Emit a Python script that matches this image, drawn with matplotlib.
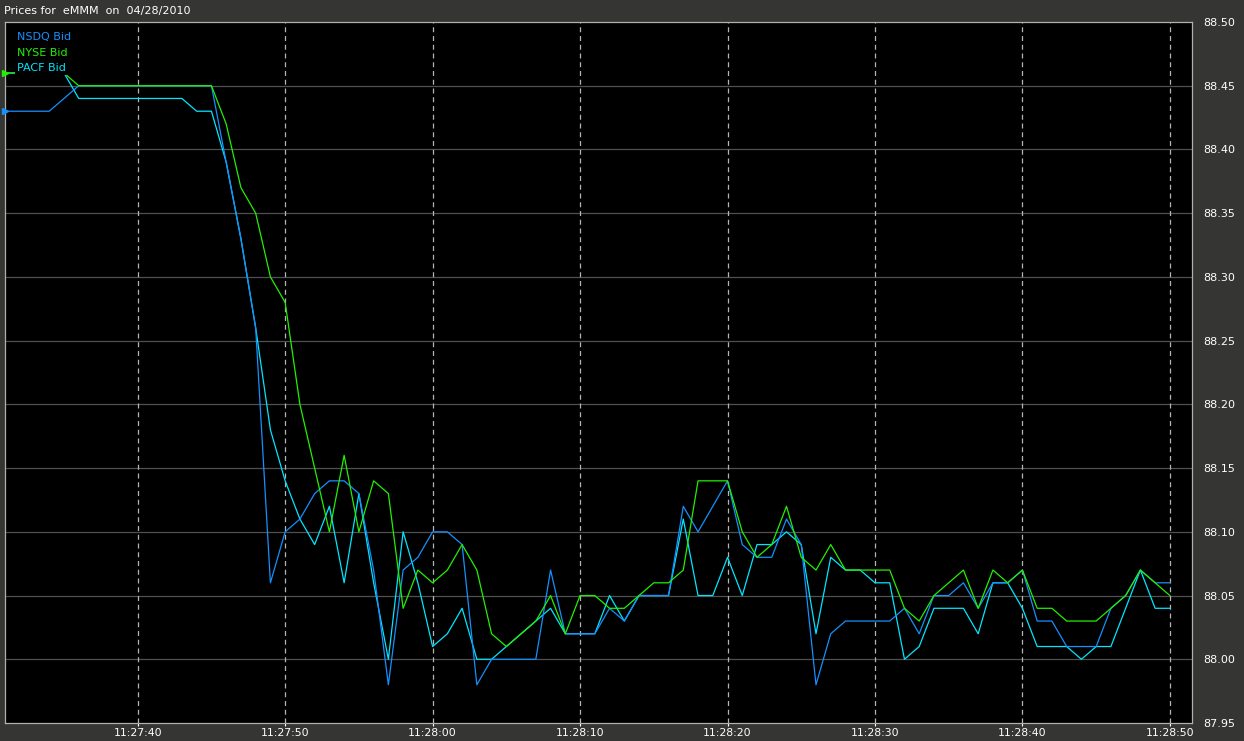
import matplotlib
matplotlib.use("Agg")
import matplotlib.pyplot as plt
import numpy as np

# seconds relative to 11:27:40
seconds = list(range(-9, 71))

nsdq_bid = [88.43, 88.43, 88.43, 88.43, 88.44, 88.45, 88.45, 88.45, 88.45, 88.45,
            88.45, 88.45, 88.45, 88.45, 88.45, 88.39, 88.33, 88.26, 88.06, 88.10,
            88.11, 88.13, 88.14, 88.14, 88.13, 88.07, 87.98, 88.07, 88.08, 88.10,
            88.10, 88.09, 87.98, 88.00, 88.00, 88.00, 88.00, 88.07, 88.02, 88.02,
            88.02, 88.04, 88.03, 88.05, 88.05, 88.05, 88.12, 88.10, 88.12, 88.14,
            88.09, 88.08, 88.08, 88.11, 88.09, 87.98, 88.02, 88.03, 88.03, 88.03,
            88.03, 88.04, 88.02, 88.05, 88.05, 88.06, 88.04, 88.06, 88.06, 88.07,
            88.03, 88.03, 88.01, 88.01, 88.01, 88.04, 88.05, 88.07, 88.06, 88.06]

nyse_bid = [88.46, 88.46, 88.46, 88.46, 88.46, 88.45, 88.45, 88.45, 88.45, 88.45,
            88.45, 88.45, 88.45, 88.45, 88.45, 88.42, 88.37, 88.35, 88.30, 88.28,
            88.20, 88.15, 88.10, 88.16, 88.10, 88.14, 88.13, 88.04, 88.07, 88.06,
            88.07, 88.09, 88.07, 88.02, 88.01, 88.02, 88.03, 88.05, 88.02, 88.05,
            88.05, 88.04, 88.04, 88.05, 88.06, 88.06, 88.07, 88.14, 88.14, 88.14,
            88.10, 88.08, 88.09, 88.12, 88.08, 88.07, 88.09, 88.07, 88.07, 88.07,
            88.07, 88.04, 88.03, 88.05, 88.06, 88.07, 88.04, 88.07, 88.06, 88.07,
            88.04, 88.04, 88.03, 88.03, 88.03, 88.04, 88.05, 88.07, 88.06, 88.05]

pacf_bid = [88.46, 88.46, 88.46, 88.46, 88.46, 88.44, 88.44, 88.44, 88.44, 88.44,
            88.44, 88.44, 88.44, 88.43, 88.43, 88.39, 88.33, 88.26, 88.18, 88.14,
            88.11, 88.09, 88.12, 88.06, 88.13, 88.06, 88.00, 88.10, 88.06, 88.01,
            88.02, 88.04, 88.00, 88.00, 88.01, 88.02, 88.03, 88.04, 88.02, 88.02,
            88.02, 88.05, 88.03, 88.05, 88.05, 88.05, 88.11, 88.05, 88.05, 88.08,
            88.05, 88.09, 88.09, 88.10, 88.09, 88.02, 88.08, 88.07, 88.07, 88.06,
            88.06, 88.00, 88.01, 88.04, 88.04, 88.04, 88.02, 88.06, 88.06, 88.04,
            88.01, 88.01, 88.01, 88.00, 88.01, 88.01, 88.04, 88.07, 88.04, 88.04]

series_names = ["NSDQ Bid", "NYSE Bid", "PACF Bid"]
x_tick_pos = [0, 10, 20, 30, 40, 50, 60, 70]
x_tick_labels = ["11:27:40", "11:27:50", "11:28:00", "11:28:10",
                 "11:28:20", "11:28:30", "11:28:40", "11:28:50"]
y_ticks = [87.95, 88.00, 88.05, 88.10, 88.15, 88.20, 88.25, 88.30,
           88.35, 88.40, 88.45, 88.50]
title_text = "Prices for  eMMM  on  04/28/2010"

W, H = 1244, 741
fig = plt.figure(figsize=(W / 100, H / 100), dpi=100)
fig.patch.set_facecolor("#353634")

left, right, top, bottom = 5, 1192, 22, 723
ax = fig.add_axes([left / W, 1 - bottom / H, (right - left) / W, (bottom - top) / H])
ax.set_facecolor("black")

c_blue = "#1490FF"
c_green = "#22F000"
c_cyan = "#00E6FF"

lw = 0.9
ax.plot(seconds, pacf_bid, color=c_cyan, lw=lw, zorder=3)
ax.plot(seconds, nsdq_bid, color=c_blue, lw=lw, zorder=4)
ax.plot(seconds, nyse_bid, color=c_green, lw=lw, zorder=5)
ax.plot(seconds[0], nsdq_bid[0], marker=">", color=c_blue, ms=4, zorder=6, clip_on=False)
ax.plot(seconds[0], nyse_bid[0], marker=">", color=c_green, ms=4, zorder=6, clip_on=False)

ax.set_xlim(-9.0, 71.5)
ax.set_ylim(87.95, 88.50)

# grid
for yv in y_ticks[1:-1]:
    ax.axhline(yv, color="#505050", lw=0.9, zorder=1)
for xv in x_tick_pos:
    ax.axvline(xv, color="#b4b4b4", lw=0.9, ls=(0, (4, 3)), zorder=1)

ax.set_xticks(x_tick_pos)
ax.set_xticklabels(x_tick_labels)
ax.set_yticks(y_ticks)
ax.set_yticklabels([f"{v:.2f}" for v in y_ticks])
ax.yaxis.tick_right()
ax.tick_params(axis="y", colors="white", length=0, pad=8, labelsize=8)
ax.tick_params(axis="x", colors="white", length=2, width=0.8, pad=1.5, labelsize=7.8)
for lab in ax.get_xticklabels() + ax.get_yticklabels():
    lab.set_color("white")

for sp in ax.spines.values():
    sp.set_color("#b0b0b0")
    sp.set_linewidth(0.9)

# legend as coloured text on black
leg_colors = [c_blue, c_green, c_cyan]
for i, (name, col) in enumerate(zip(series_names, leg_colors)):
    ypx = 37 + i * 15.5
    ax.text(12 / (right - left), 1 - (ypx - top) / (bottom - top), name,
            transform=ax.transAxes, color=col, fontsize=8, va="center", ha="left",
            zorder=10, bbox=dict(facecolor="black", edgecolor="none", pad=1.4))

fig.text(4 / W, 1 - 11 / H, title_text, color="white", fontsize=8,
         va="center", ha="left")

fig.savefig("out.png", dpi=100, facecolor=fig.get_facecolor())
